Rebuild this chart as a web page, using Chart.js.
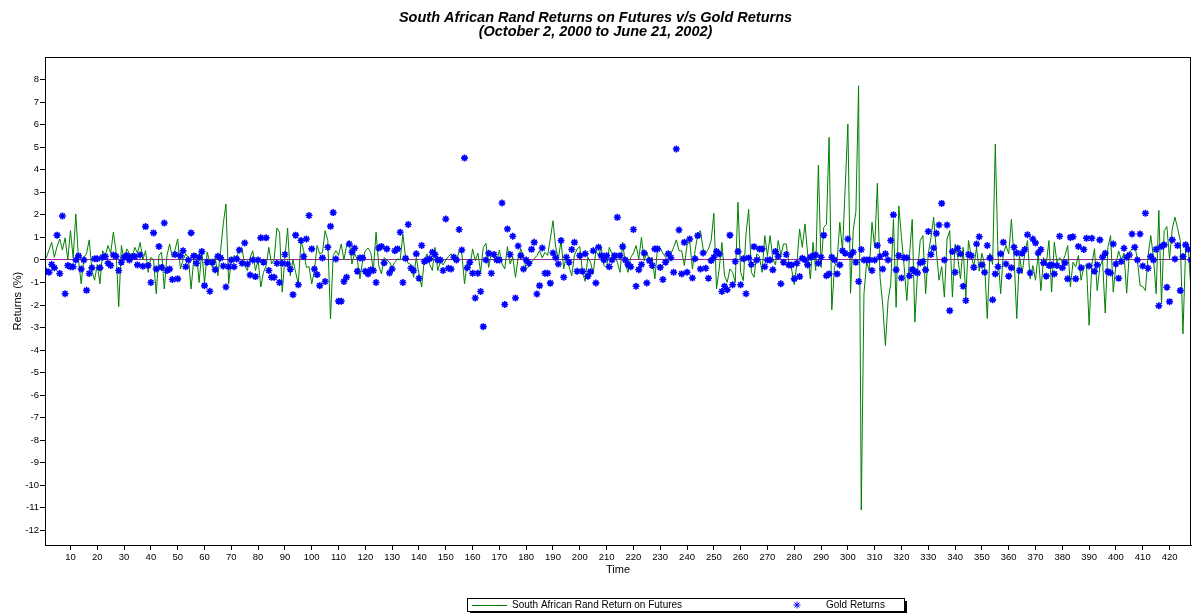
<!DOCTYPE html>
<html lang="en">
<head>
<meta charset="UTF-8">
<title>South African Rand Returns on Futures v/s Gold Returns</title>
<script src="https://cdn.jsdelivr.net/npm/chart.js@4.4.0/dist/chart.umd.min.js"></script>
<style>
  body { margin: 0; background: #fff; }
  #wrap { width: 1193px; height: 613px; }
</style>
</head>
<body>
<div id="wrap"><canvas id="myChart" width="1193" height="613"></canvas></div>
<script>
// daily returns (%)
var randReturns = [
  0.1, 0.45, 0.78, 0.12, 0.6, 0.93, 0.44, 0.98, 0.0, 1.3,
  0.1, 2.04, 0.0, -1.06, 0.1, 0.3, 0.89, -0.47, -0.9, -0.2,
  -1.06, 0.41, 0.2, 0.64, 0.3, 1.23, 0.4, -2.07, 0.64, 0.0,
  0.49, 0.3, 0.1, 0.56, 0.3, 0.78, 0.0, 0.41, -0.55, 0.12,
  0.0, -1.5, 0.2, 0.35, -1.29, 0.2, 0.71, 0.12, 0.45, 0.93,
  -0.4, 0.0, 0.27, 0.1, -1.29, 0.05, 0.3, -1.0, 0.41, -1.06,
  0.34, -0.1, -0.33, 0.1, -0.7, 0.41, 1.6, 2.48, -1.06, 0.0,
  0.2, 0.1, 0.49, 0.53, -0.25, -0.47, 0.1, 0.41, -0.47, 0.0,
  -1.2, -0.55, -0.25, 0.56, -0.18, 0.05, 1.42, 1.23, -1.43, 0.1,
  1.42, -0.7, 0.0, -0.55, -1.06, 0.86, 0.41, -0.33, -0.3, -1.06,
  -0.47, 0.64, 0.27, 0.34, 1.3, 0.86, -2.62, 0.19, 0.41, 0.2,
  0.71, 0.0, 0.64, 0.86, -0.18, 0.3, 0.0, -0.84, 0.0, 0.41,
  0.53, 0.34, -0.47, 1.23, -0.25, -0.62, 0.1, 0.0, -0.1, -0.33,
  -0.1, 0.05, 0.0, 1.15, 0.1, -0.15, -0.2, -0.77, 0.1, -0.62,
  -1.2, 0.0, 0.27, -0.2, -0.47, 0.56, -0.47, -0.07, -0.22, 0.0,
  0.15, 0.27, 0.0, -0.07, 0.41, 0.27, -1.06, -0.1, -0.33, 0.49,
  -0.03, 0.3, -0.55, 0.56, 0.74, -0.33, 0.3, 0.2, -0.1, 0.44,
  -0.18, -0.4, 0.59, -0.18, 0.12, -0.77, 0.09, 0.49, 0.12, -0.4,
  -0.3, -0.1, 0.05, 0.19, 0.41, 0.09, 0.34, 0.2, 0.93, 1.74,
  0.56, 0.04, 0.86, -0.4, 0.19, -0.3, -0.7, 0.2, 0.49, 0.59,
  -0.55, -0.95, 0.12, -0.1, -0.62, 0.41, 0.19, 0.56, -0.25, -0.33,
  0.56, 0.27, 0.15, -0.1, -0.55, 0.78, -0.18, -0.55, 0.12, 0.3,
  0.64, 0.04, 1.0, -0.03, 0.34, -0.03, 0.12, -0.84, 0.53, 0.53,
  0.3, 0.12, -0.1, 0.27, 0.56, 0.89, 0.41, 0.4, -0.25, 0.64,
  0.86, -0.4, 0.41, 1.15, 1.3, 0.49, 0.3, 0.49, 0.86, 2.07,
  -1.29, -0.4, 0.78, -0.7, -0.99, -0.4, -0.55, -0.99, 2.56, -0.55,
  -0.92, 1.15, 2.24, -0.55, -0.77, 0.27, 0.15, -0.55, 1.08, 0.19,
  1.08, 0.05, -0.22, 0.86, 0.2, 0.71, 0.71, -0.18, -0.4, -1.09,
  -0.15, 1.37, 0.56, 1.6, 0.27, -0.84, 0.78, -0.47, 4.21, -0.33,
  1.45, 1.57, 5.44, -2.22, -0.33, 0.0, 1.67, 0.41, 3.22, 6.03,
  -1.48, 1.3, 2.16, 7.73, -11.1, -1.5, -0.1, -0.47, 1.67, 0.56,
  3.4, -0.77, -2.0, -3.8, -1.8, -1.06, 1.8, -2.1, 2.4, 1.0,
  -0.3, -1.8, 0.2, 1.8, -2.76, -0.5, 0.86, 1.08, -1.5, 0.27,
  1.0, 1.9, 0.4, -0.9, -0.3, -1.65, 0.93, 1.3, -1.65, 0.7,
  0.1, -0.84, 0.56, -1.65, 0.86, 0.2, -0.3, 0.56, -0.5, 0.3,
  -0.2, -2.6, 0.3, -0.2, 5.14, 0.2, -1.5, 0.3, 0.64, 0.27,
  1.8, 0.1, -2.6, 0.2, -0.6, 0.3, 0.86, -0.85, -0.25, -0.9,
  0.3, -1.36, 0.1, -0.2, 0.86, -1.43, 0.78, -0.1, 0.1, -0.1,
  0.2, 0.64, -1.2, -0.1, -0.3, 0.2, -0.9, -0.3, -0.2, -2.9,
  -0.2, 0.5, -1.36, -0.3, 0.0, -2.36, 0.56, 1.08, -1.43, -0.2,
  0.4, 0.0, 0.3, -1.48, 0.3, 0.5, 0.7, 0.0, -1.14, -1.18,
  -1.36, 0.2, 1.08, 0.1, -1.5, 2.2, -1.95, 1.3, 1.48, 0.05,
  1.37, 1.9, 1.4, 0.86, -3.28, 0.5, 0.56, -1.4
];

var goldReturns = [
  -0.5, -0.55, -0.2, -0.35, 1.1, -0.6, 1.95, -1.5, -0.25, -0.3,
  -0.3, 0.0, 0.18, -0.4, 0.0, -1.35, -0.6, -0.35, 0.05, 0.05,
  -0.35, 0.12, 0.15, -0.15, -0.25, 0.22, 0.16, -0.47, -0.1, 0.12,
  0.2, 0.0, 0.15, 0.15, -0.22, 0.22, -0.28, 1.48, -0.25, -1.0,
  1.2, -0.4, 0.6, -0.33, 1.64, -0.47, -0.4, -0.87, 0.24, -0.84,
  0.18, 0.41, -0.3, 0.0, 1.2, 0.18, -0.15, 0.12, 0.37, -1.14,
  -0.1, -1.39, -0.1, -0.43, 0.16, 0.09, -0.27, -1.2, -0.3, 0.0,
  -0.3, 0.04, 0.44, -0.15, 0.75, -0.18, -0.67, 0.0, -0.74, 0.0,
  0.98, -0.1, 0.98, -0.47, -0.77, -0.77, -0.15, -1.0, -0.15, 0.24,
  -0.18, -0.41, -1.54, 1.1, -1.1, 0.86, 0.15, 0.93, 1.97, 0.49,
  -0.4, -0.65, -1.14, 0.09, -0.96, 0.56, 1.49, 2.1, 0.04, -1.83,
  -1.83, -0.96, -0.77, 0.71, 0.34, 0.52, -0.5, 0.09, 0.09, -0.5,
  -0.62, -0.44, -0.47, -1.0, 0.53, 0.6, -0.13, 0.49, -0.58, -0.4,
  0.41, 0.49, 1.23, -1.0, 0.07, 1.57, -0.37, -0.47, 0.27, -0.81,
  0.64, -0.07, 0.0, 0.05, 0.34, 0.24, 0.0, 0.0, -0.47, 1.82,
  -0.37, -0.4, 0.12, 0.0, 1.35, 0.44, 4.52, -0.35, -0.1, -0.59,
  -1.69, -0.59, -1.4, -2.96, 0.0, 0.3, -0.59, 0.24, 0.0, 0.0,
  2.53, -1.98, 1.37, 0.24, 1.05, -1.69, 0.62, 0.19, -0.4, 0.0,
  -0.15, 0.47, 0.78, -1.51, -1.14, 0.53, -0.59, -0.59, -1.03, 0.31,
  0.1, -0.18, 0.86, -0.77, 0.12, -0.1, 0.46, 0.78, -0.5, 0.19,
  -0.5, 0.27, -0.72, -0.52, 0.41, -1.02, 0.56, 0.19, 0.0, 0.19,
  -0.3, 0.0, 0.19, 1.89, 0.19, 0.59, 0.0, -0.2, -0.3, 1.35,
  -1.17, -0.43, -0.2, 0.31, -1.02, -0.03, -0.25, 0.49, 0.49, -0.33,
  -0.87, -0.1, 0.27, 0.1, -0.55, 4.92, 1.33, -0.62, 0.78, -0.55,
  0.93, -0.8, 0.05, 1.08, -0.4, 0.31, -0.37, -0.81, -0.03, 0.12,
  0.37, 0.27, -1.4, -1.17, -1.32, 1.1, -1.1, -0.07, 0.37, -1.1,
  0.05, -1.5, 0.09, -0.2, 0.59, 0.0, 0.49, 0.49, -0.3, 0.0,
  0.0, -0.44, 0.37, 0.16, -1.06, -0.1, 0.24, -0.22, -0.22, -0.84,
  -0.15, -0.74, 0.07, 0.0, -0.22, 0.12, 0.18, 0.22, -0.15, 0.12,
  1.1, -0.7, -0.62, 0.12, 0.0, -0.62, -0.22, 0.41, 0.3, 0.93,
  0.22, 0.34, -0.1, -0.96, 0.46, 0.0, 0.0, 0.0, -0.47, 0.0,
  0.64, 0.15, -0.4, 0.27, 0.0, 0.86, 2.0, -0.44, 0.19, -0.8,
  0.1, 0.1, -0.7, -0.43, -0.5, -0.58, -0.13, -0.07, -0.44, 1.26,
  0.24, 0.53, 1.18, 1.55, 2.51, 0.0, 1.55, -2.25, 0.37, -0.55,
  0.52, 0.27, -1.17, -1.8, 0.24, 0.19, -0.33, 0.71, 1.03, -0.22,
  -0.55, 0.64, 0.09, -1.77, -0.62, -0.3, 0.27, 0.78, -0.18, -0.72,
  -0.35, 0.56, 0.31, -0.47, 0.3, 0.46, 1.12, -0.58, 0.93, 0.75,
  0.31, 0.46, -0.13, -0.72, -0.25, -0.22, -0.62, -0.25, 1.05, -0.35,
  -0.13, -0.84, 1.0, 1.03, -0.84, 0.6, -0.35, 0.46, 0.96, -0.27,
  0.96, -0.5, -0.22, 0.89, 0.12, 0.3, -0.52, -0.58, 0.71, -0.18,
  -0.81, -0.07, 0.52, 0.12, 0.22, 1.15, 0.56, 0.0, 1.15, -0.27,
  2.07, -0.37, 0.15, 0.0, 0.47, -2.03, 0.6, 0.67, -1.21, -1.85,
  0.89, 0.04, 0.64, -1.36, 0.15, 0.67, 0.47, 0.0
];

// time index: trading day 1..n
var days = randReturns.map(function (v, k) { return k + 1; });
var xTicks = [10, 20, 30, 40, 50, 60, 70, 80, 90, 100, 110, 120, 130, 140, 150, 160, 170, 180, 190, 200,
              210, 220, 230, 240, 250, 260, 270, 280, 290, 300, 310, 320, 330, 340, 350, 360, 370, 380, 390, 400,
              410, 420];
var yTicks = [8, 7, 6, 5, 4, 3, 2, 1, 0, -1, -2, -3, -4, -5, -6, -7, -8, -9, -10, -11, -12];

var FONT = '"Liberation Sans", Arial, Helvetica, sans-serif';

// box around the plot
var frame = {
    id: 'frame',
    afterDatasetsDraw: function (chart) {
        var a = chart.chartArea, ctx = chart.ctx;
        ctx.save();
        ctx.strokeStyle = '#000';
        ctx.lineWidth = 1;
        ctx.strokeRect(Math.round(a.left) + 0.5, Math.round(a.top) + 0.5,
            Math.round(a.right - a.left) - 1, Math.round(a.bottom - a.top));
        ctx.restore();
    }
};

// old-style legend box with a drop shadow
var legendBox = {
    id: 'legendBox',
    afterDraw: function (chart) {
        var ctx = chart.ctx, ds = chart.data.datasets;
        var x0 = 467, y0 = 598, w = 437, h = 13, cy = y0 + h / 2 + 0.5;
        ctx.save();
        ctx.fillStyle = '#000';
        ctx.fillRect(x0 + 3, y0 + 3, w, h);
        ctx.fillStyle = '#fff';
        ctx.fillRect(x0, y0, w, h);
        ctx.strokeStyle = '#000';
        ctx.lineWidth = 1;
        ctx.strokeRect(x0 + 0.5, y0 + 0.5, w, h);

        ctx.font = '10px ' + FONT;
        ctx.textBaseline = 'middle';
        ctx.fillStyle = '#000';

        ctx.strokeStyle = ds[1].borderColor;
        ctx.beginPath();
        ctx.moveTo(472, Math.round(cy) + 0.5);
        ctx.lineTo(507, Math.round(cy) + 0.5);
        ctx.stroke();
        ctx.fillText(ds[1].label, 512, cy);

        ctx.strokeStyle = ds[0].borderColor;
        ctx.fillStyle = ds[0].backgroundColor;
        Chart.helpers.drawPoint(ctx, { pointStyle: 'star', radius: 3.5, borderWidth: 1.6 }, 797, cy);
        ctx.fillStyle = '#000';
        ctx.fillText(ds[0].label, 826, cy);
        ctx.restore();
    }
};

var ctx = document.getElementById('myChart');
var myChart = new Chart(ctx, {
    type: 'line',
    data: {
        datasets: [{
            type: 'scatter',
            label: 'Gold Returns',
            data: days.map(function (d, k) { return { x: d, y: goldReturns[k] }; }),
            showLine: false,
            pointStyle: 'star',
            pointRadius: 3.5,
            pointBorderWidth: 1.6,
            borderColor: '#0000ff',
            backgroundColor: '#0000ff',
            order: 0
        }, {
            label: 'South African Rand Return on Futures',
            data: days.map(function (d, k) { return { x: d, y: randReturns[k] }; }),
            borderColor: '#008000',
            borderWidth: 1,
            pointRadius: 0,
            tension: 0,
            order: 1
        }]
    },
    options: {
        responsive: false,
        devicePixelRatio: 1,
        animation: false,
        layout: { autoPadding: false, padding: { left: 0, right: 2, top: 0, bottom: 36 } },
        plugins: {
            legend: { display: false },
            tooltip: { enabled: false },
            title: {
                display: true,
                text: ['South African Rand Returns on Futures v/s Gold Returns',
                       '(October 2, 2000 to June 21, 2002)'],
                color: '#000',
                font: { family: FONT, size: 14.5, style: 'italic', weight: 'bold', lineHeight: 0.97 },
                padding: { top: 11, bottom: 18 }
            }
        },
        scales: {
            x: {
                type: 'linear',
                min: 0.5,
                max: 428,
                afterFit: function (s) { s.height = 32; },
                afterBuildTicks: function (s) {
                    s.ticks = xTicks.map(function (v) { return { value: v }; });
                },
                ticks: {
                    maxRotation: 0,
                    autoSkip: false,
                    color: '#000',
                    padding: 2,
                    font: { family: FONT, size: 9.5 }
                },
                grid: { drawOnChartArea: false, tickLength: 5, tickColor: '#000' },
                border: { color: '#000' },
                title: {
                    display: true,
                    text: 'Time',
                    color: '#000',
                    font: { family: FONT, size: 11 },
                    padding: { top: 0, bottom: 0 }
                }
            },
            y: {
                min: -12.65,
                max: 9,
                afterFit: function (s) { s.width = 45; },
                afterBuildTicks: function (s) {
                    s.ticks = yTicks.map(function (v) { return { value: v }; });
                },
                ticks: {
                    color: '#000',
                    padding: 1,
                    font: { family: FONT, size: 9.5 }
                },
                grid: {
                    tickLength: 5,
                    tickColor: '#000',
                    color: function (c) { return c.tick && c.tick.value === 0 ? '#a0209a' : 'rgba(0,0,0,0)'; },
                    lineWidth: 1
                },
                border: { color: '#000' },
                title: {
                    display: true,
                    text: 'Returns (%)',
                    color: '#000',
                    font: { family: FONT, size: 11 },
                    padding: { top: 11, bottom: 0 }
                }
            }
        }
    },
    plugins: [frame, legendBox]
});
</script>
</body>
</html>
